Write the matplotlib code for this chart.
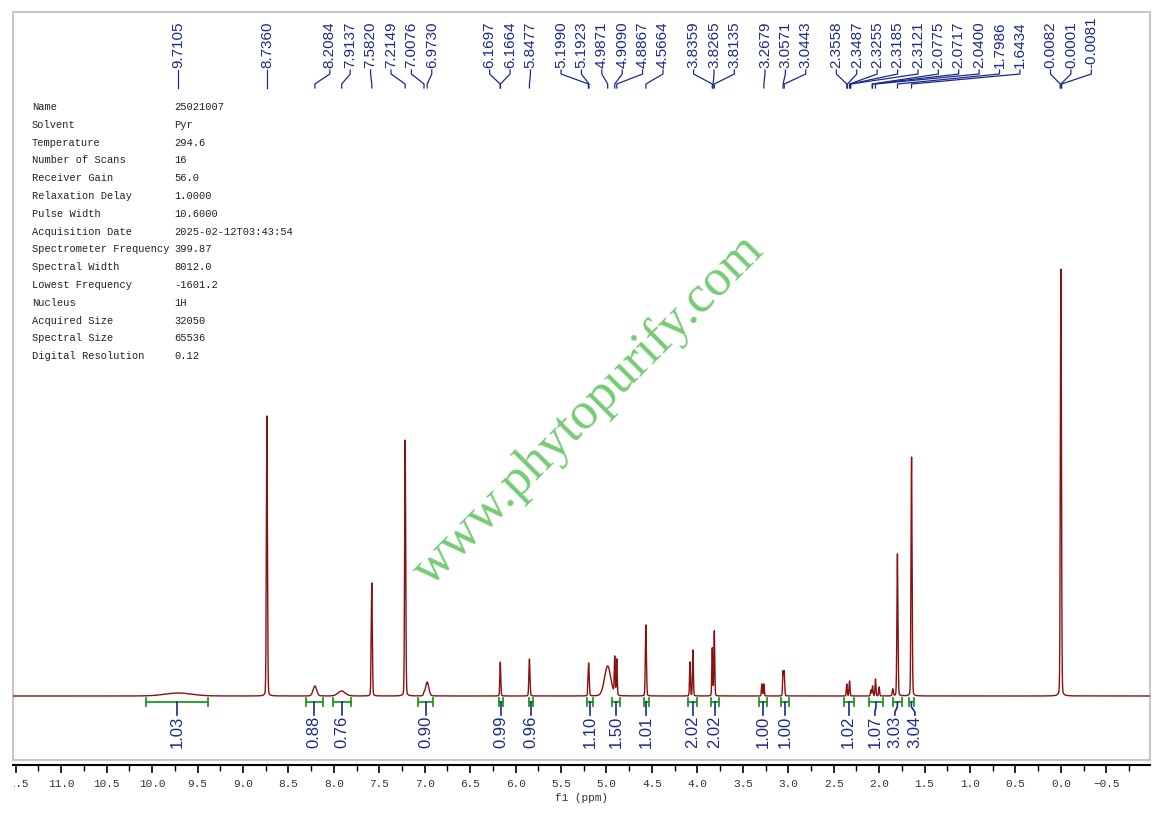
import numpy as np
import matplotlib
matplotlib.use("Agg")
import matplotlib.pyplot as plt
from matplotlib.patches import Rectangle
from matplotlib.ticker import MultipleLocator, FuncFormatter
from matplotlib.transforms import Bbox

plt.rcParams['font.family'] = ['Liberation Mono', 'DejaVu Sans Mono']

# acquisition parameters
meta_keys = ["Name", "Solvent", "Temperature", "Number of Scans", "Receiver Gain",
             "Relaxation Delay", "Pulse Width", "Acquisition Date",
             "Spectrometer Frequency", "Spectral Width", "Lowest Frequency",
             "Nucleus", "Acquired Size", "Spectral Size", "Digital Resolution"]
meta_vals = ["25021007", "Pyr", "294.6", "16", "56.0", "1.0000", "10.6000",
             "2025-02-12T03:43:54", "399.87", "8012.0", "-1601.2", "1H",
             "32050", "65536", "0.12"]

# spectrum lines: position (ppm), height, width (ppm)
peak_ppm = [9.71, 8.736, 8.2084, 7.9137, 7.582, 7.2149, 7.0076, 6.973,
            6.1697, 6.1664, 5.8477, 5.199, 5.1923, 4.9871, 4.909, 4.8867,
            4.5664, 4.081, 4.049, 3.8359, 3.8135, 3.29, 3.2679, 3.0571, 3.0443,
            2.3558, 2.3255, 2.09, 2.0717, 2.04, 2.00, 1.85, 1.7986, 1.6434, 0.0001]
peak_height = [3, 280, 10, 5, 113, 256, 2, 14,
               18, 18, 37, 21, 21, 30, 37, 36,
               71, 34, 46, 48, 65, 12, 12, 24, 24,
               12, 15, 6, 10, 17, 9, 7, 142, 239, 427]
peak_width = [0.15, 0.006, 0.02, 0.04, 0.006, 0.006, 0.006, 0.018,
              0.005, 0.005, 0.006, 0.005, 0.005, 0.035, 0.005, 0.005,
              0.006, 0.005, 0.005, 0.005, 0.005, 0.005, 0.005, 0.005, 0.005,
              0.005, 0.005, 0.005, 0.005, 0.005, 0.005, 0.006, 0.006, 0.006, 0.006]

# peak picking labels, grouped as in the software
label_groups = [[9.7105], [8.7360],
                [8.2084, 7.9137, 7.5820, 7.2149, 7.0076, 6.9730],
                [6.1697, 6.1664, 5.8477],
                [5.1990, 5.1923, 4.9871, 4.9090, 4.8867, 4.5664],
                [3.8359, 3.8265, 3.8135],
                [3.2679, 3.0571, 3.0443],
                [2.3558, 2.3487, 2.3255, 2.3185, 2.3121, 2.0775, 2.0717, 2.0400, 1.7986, 1.6434],
                [0.0082, 0.0001, -0.0081]]

# integrals
int_from = [10.07, 8.31, 8.01, 7.07, 6.18, 5.85, 5.21, 4.94, 4.59, 4.10, 3.85,
            3.32, 3.08, 2.39, 2.11, 1.85, 1.67]
int_to = [9.38, 8.12, 7.81, 6.91, 6.14, 5.81, 5.15, 4.85, 4.53, 4.00, 3.76,
          3.23, 2.99, 2.28, 1.96, 1.75, 1.62]
int_value = ["1.03", "0.88", "0.76", "0.90", "0.99", "0.96", "1.10", "1.50", "1.01",
             "2.02", "2.02", "1.00", "1.00", "1.02", "1.07", "3.03", "3.04"]

spec_color = "#8b1010"
lab_color = "#1b2a8a"
int_color = "#1e9b1e"


def spread(vals, d):
    # keep labels at least d apart, clusters centred on their peaks
    clusters = []
    for v in vals:
        clusters.append([v, 1])
        while len(clusters) > 1:
            c1, c2 = clusters[-2], clusters[-1]
            last1 = c1[0] - d * (c1[1] - 1) / 2
            first2 = c2[0] + d * (c2[1] - 1) / 2
            if last1 - first2 < d:
                n = c1[1] + c2[1]
                clusters[-2:] = [[(c1[0] * c1[1] + c2[0] * c2[1]) / n, n]]
            else:
                break
    out = []
    for c, n in clusters:
        out += [c + d * ((n - 1) / 2 - k) for k in range(n)]
    return out


fig = plt.figure(figsize=(11.6, 8.14), dpi=100)
ax = fig.add_axes([13 / 1160, 54 / 814, 1137 / 1160, 748 / 814])

x = np.linspace(-1.0, 11.6, 30000)
y = np.zeros_like(x)
for p, h, w in zip(peak_ppm, peak_height, peak_width):
    u = (x - p) / w
    y += h * (0.85 * np.exp(-0.5 * u ** 2) + 0.15 / (1 + u ** 2))
ax.plot(x, y, color=spec_color, lw=1.0, zorder=3)

ax.set_xlim(11.53, -0.98)
ax.set_ylim(-64, 684)

# watermark
ax.text(5.2, 286, "www.phytopurify.com", rotation=45, rotation_mode="anchor",
        ha="center", va="center", fontsize=38, family="Liberation Serif",
        color="#5ec25e", alpha=0.85, zorder=1)

# peak labels
d_lab = 0.2244
placed = []
prev_last = None
for grp in label_groups:
    c = np.mean(grp)
    n = len(grp)
    pos = [c + d_lab * ((n - 1) / 2 - k) for k in range(n)]
    if prev_last is not None and pos[0] > prev_last - 1.5 * d_lab:
        shift = pos[0] - (prev_last - 1.5 * d_lab)
        pos = [q - shift for q in pos]
    prev_last = pos[-1]
    placed += list(zip(grp, pos))

for v, lx in placed:
    ax.text(lx, 628, f"{v:.4f}", rotation=90, ha="center", va="bottom",
            fontsize=11, family="Liberation Sans", color=lab_color, zorder=4)
    ax.plot([lx, lx, v, v], [626, 622, 612, 608], color=lab_color, lw=0.9,
            clip_on=False, zorder=4)

# integrals
centers = [(a + b) / 2 for a, b in zip(int_from, int_to)]
lab_pos = spread(centers, 0.22)
for a, b, cx, lx, s in zip(int_from, int_to, centers, lab_pos, int_value):
    ax.plot([a, b], [-6, -6], color=int_color, lw=1.3, zorder=4)
    ax.plot([a, a], [-2, -10], color=int_color, lw=1.3, zorder=4)
    ax.plot([b, b], [-2, -10], color=int_color, lw=1.3, zorder=4)
    ax.plot([cx, cx, lx, lx], [-6, -11, -16, -19], color=lab_color, lw=1.2, zorder=4)
    ax.text(lx, -20, s, rotation=90, ha="center", va="top", fontsize=12,
            family="Liberation Sans", color=lab_color, zorder=4)

# frame and axis
ax.add_patch(Rectangle((0, 0), 1, 1, transform=ax.transAxes, fill=False,
                       ec="#c8c8c8", lw=1.5, clip_on=False, zorder=0))
for s in ["top", "left", "right"]:
    ax.spines[s].set_visible(False)
ax.spines["bottom"].set_position(("outward", 3.6))
ax.spines["bottom"].set_linewidth(1.5)
ax.set_yticks([])
ax.xaxis.set_major_locator(MultipleLocator(0.5))
ax.xaxis.set_minor_locator(MultipleLocator(0.25))
ax.xaxis.set_major_formatter(FuncFormatter(lambda v, p: f"{v:.1f}".replace("-", "\u2212")))
ax.tick_params(axis="x", which="major", length=6, width=1.2, pad=4,
               labelsize=8, labelcolor="#333333")
ax.tick_params(axis="x", which="minor", length=4, width=1.0)
ax.set_xlabel("f1 (ppm)", fontsize=8, labelpad=3, color="#333333")

# the leftmost tick label is cut by the plot edge
fig.canvas.draw()
for tk in ax.xaxis.get_major_ticks():
    tk.label1.set_clip_box(Bbox.from_extents(14, 0, 1200, 900))
    tk.label1.set_clip_on(True)

for i, (k, v) in enumerate(zip(meta_keys, meta_vals)):
    yy = 1 - (107 + i * 17.8) / 814
    fig.text(32 / 1160, yy, k, fontsize=7.5, va="center", color="#222222")
    fig.text(174 / 1160, yy, v, fontsize=7.5, va="center", color="#222222")

fig.savefig("out.png", dpi=100)
